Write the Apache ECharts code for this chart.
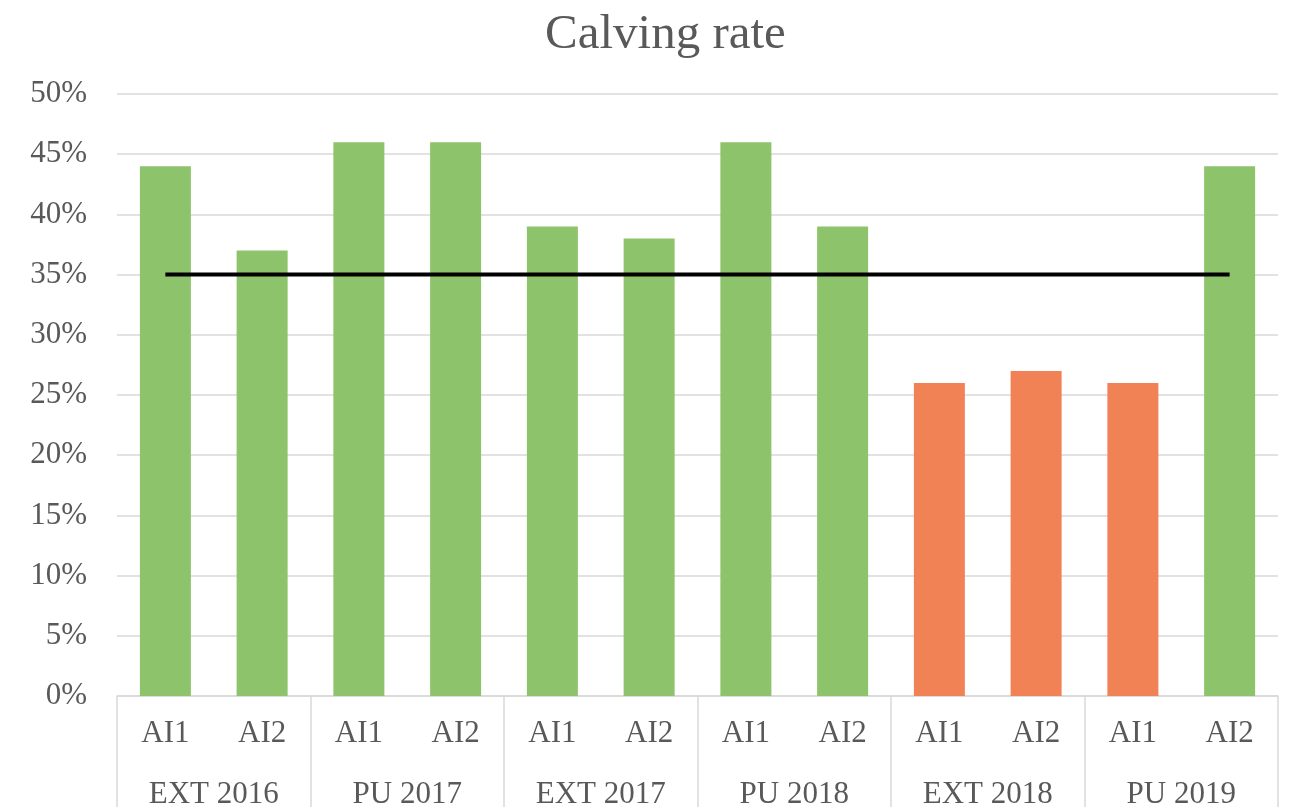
<!DOCTYPE html>
<html>
<head>
<meta charset="utf-8">
<script src="https://cdn.jsdelivr.net/npm/echarts@6/dist/echarts.min.js"></script>
<style>
  html, body { margin: 0; padding: 0; background: #fff; }
  #chart { width: 1294px; height: 807px; }
</style>
</head>
<body>
<div id="chart"></div>
<script>
// Calving rate per insemination round, grouped by season
const groups = ['EXT 2016', 'PU 2017', 'EXT 2017', 'PU 2018', 'EXT 2018', 'PU 2019'];
const rounds = ['AI1', 'AI2'];
const calvingRate = [44, 37, 46, 46, 39, 38, 46, 39, 26, 27, 26, 44];
const target = 35;
const yTicks = [0, 5, 10, 15, 20, 25, 30, 35, 40, 45, 50];

const categories = [];
groups.forEach(g => rounds.forEach(r => categories.push(r)));

const GREEN = '#8DC36B';
const ORANGE = '#F08255';
const TEXT = '#595959';
const GRID = '#D9D9D9';
const FONT = '"Liberation Serif", "Times New Roman", serif';

const chart = echarts.init(document.getElementById('chart'));
chart.setOption({
  animation: false,
  backgroundColor: '#fff',
  title: {
    text: 'Calving rate',
    left: 540,
    top: 6,
    textStyle: { fontFamily: FONT, fontSize: 49, fontWeight: 'normal', color: TEXT }
  },
  grid: {
    left: 117, right: 16, top: 94, bottom: 111,
    containLabel: false,
    outerBoundsMode: 'none'
  },
  xAxis: [
    {
      type: 'category',
      data: categories,
      axisLine: { show: true, lineStyle: { color: GRID, width: 1.5 } },
      axisTick: { show: false },
      axisLabel: { interval: 0, margin: 22, fontFamily: FONT, fontSize: 31, color: TEXT }
    },
    {
      type: 'category',
      data: groups,
      position: 'bottom',
      axisLine: { show: false },
      axisTick: { show: true, length: 111, interval: 0, lineStyle: { color: GRID, width: 1.5 } },
      axisLabel: { interval: 0, margin: 83, fontFamily: FONT, fontSize: 31, color: TEXT }
    }
  ],
  yAxis: {
    type: 'value',
    min: 0,
    max: 50,
    interval: 5,
    axisLine: { show: false },
    axisTick: { show: false },
    splitLine: { lineStyle: { color: GRID, width: 1.5 } },
    axisLabel: {
      margin: 30,
      fontFamily: FONT,
      fontSize: 31,
      color: TEXT,
      formatter: v => yTicks.includes(v) ? v + '%' : ''
    }
  },
  series: [
    {
      type: 'bar',
      xAxisIndex: 0,
      barWidth: 51,
      data: calvingRate.map(v => ({
        value: v,
        itemStyle: { color: v < target ? ORANGE : GREEN }
      }))
    },
    {
      type: 'line',
      xAxisIndex: 0,
      data: categories.map(() => target),
      symbol: 'none',
      lineStyle: { color: '#000', width: 4 },
      z: 5
    }
  ]
});
</script>
</body>
</html>
